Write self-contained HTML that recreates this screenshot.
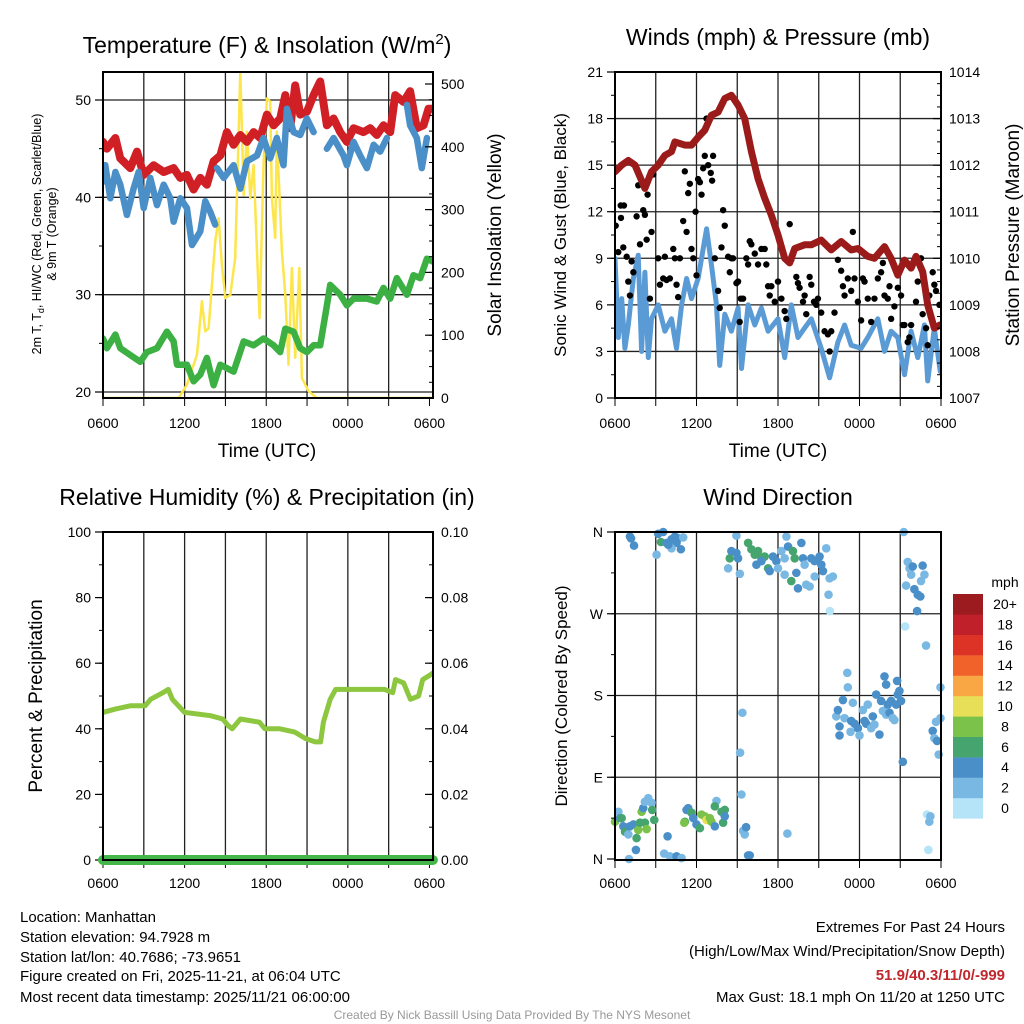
<!DOCTYPE html>
<html><head><meta charset="utf-8"><style>
html,body{margin:0;padding:0;background:#fff;}
svg{display:block;font-family:"Liberation Sans",Arial,sans-serif;}
</style></head><body>
<svg id="fig" width="1024" height="1024" viewBox="0 0 1024 1024" xmlns="http://www.w3.org/2000/svg">
<rect width="1024" height="1024" fill="#fff"/>
<text x="267" y="53" font-size="23" text-anchor="middle">Temperature (F) &amp; Insolation (W/m<tspan dy="-9" font-size="15">2</tspan><tspan dy="9">)</tspan></text>
<text x="778" y="45" font-size="23" text-anchor="middle">Winds (mph) &amp; Pressure (mb)</text>
<text x="267" y="505" font-size="23" text-anchor="middle">Relative Humidity (%) &amp; Precipitation (in)</text>
<text x="778" y="505" font-size="23" text-anchor="middle">Wind Direction</text>
<text x="267" y="457" font-size="19" text-anchor="middle">Time (UTC)</text>
<text x="778" y="457" font-size="19" text-anchor="middle">Time (UTC)</text>
<text transform="translate(41,234) rotate(-90)" font-size="12.5" text-anchor="middle">2m T, T<tspan dy="3" font-size="9">d</tspan><tspan dy="-3">, HI/WC (Red, Green, Scarlet/Blue)</tspan></text>
<text transform="translate(56,234) rotate(-90)" font-size="12.5" text-anchor="middle">&amp; 9m T (Orange)</text>
<text transform="translate(501,235) rotate(-90)" font-size="19" text-anchor="middle">Solar Insolation (Yellow)</text>
<text transform="translate(566,235) rotate(-90)" font-size="17" text-anchor="middle">Sonic Wind &amp; Gust (Blue, Black)</text>
<text transform="translate(1019,235) rotate(-90)" font-size="19" text-anchor="middle">Station Pressure (Maroon)</text>
<text transform="translate(42,696) rotate(-90)" font-size="19" text-anchor="middle">Percent &amp; Precipitation</text>
<text transform="translate(567,696) rotate(-90)" font-size="17" text-anchor="middle">Direction (Colored By Speed)</text>
<g font-size="15">
<text x="20" y="922">Location: Manhattan</text>
<text x="20" y="942">Station elevation: 94.7928 m</text>
<text x="20" y="962">Station lat/lon: 40.7686; -73.9651</text>
<text x="20" y="981">Figure created on Fri, 2025-11-21, at 06:04 UTC</text>
<text x="20" y="1002">Most recent data timestamp: 2025/11/21 06:00:00</text>
</g>
<g font-size="15" text-anchor="end">
<text x="1005" y="932">Extremes For Past 24 Hours</text>
<text x="1005" y="956">(High/Low/Max Wind/Precipitation/Snow Depth)</text>
<text x="1005" y="980" fill="#c1272d" font-weight="bold">51.9/40.3/11/0/-999</text>
<text x="1005" y="1002">Max Gust: 18.1 mph On 11/20 at 1250 UTC</text>
</g>
<text x="512" y="1019" font-size="12" fill="#999" text-anchor="middle">Created By Nick Bassill Using Data Provided By The NYS Mesonet</text>
</svg>
<script>
// ---------- DATA ----------
const tempTime=[0,0.29,0.91,1.27,2.01,2.5,2.99,3.72,4.46,5.19,5.68,6.17,6.66,7.15,7.64,8.13,8.62,9.11,9.6,10.09,10.58,11.07,11.56,12.05,12.54,13.03,13.4,13.76,14.13,14.5,14.99,15.48,15.97,16.46,16.95,17.44,17.93,18.42,19.15,19.64,20.13,20.62,21.11,21.48,22.09,22.58,23.07,23.56,23.93,24.25];
const tempVal=[45.7,45.0,46.1,44.0,43.0,44.7,42.3,43.3,42.6,43.0,42.0,42.3,40.8,42.0,41.3,43.7,44.3,46.7,45.4,46.4,45.7,46.7,46.1,48.5,47.4,48.1,50.5,47.1,51.5,48.5,48.8,50.5,51.9,47.4,48.1,46.7,45.7,47.1,46.7,47.1,46.4,47.4,46.7,50.5,49.8,50.9,47.1,47.4,49.1,49.1];
const hiwcTime=[0,0.17,0.54,0.91,1.27,1.76,2.25,2.62,2.99,3.48,3.97,4.46,4.95,5.19,5.68,6.17,6.54,7.15,7.52,7.89,8.25,8.3,8.38,8.87,9.6,10.09,10.58,11.32,11.8,12.29,12.78,13.27,13.52,14.01,14.5,14.99,15.48,16.0,16.46,16.95,17.68,17.93,18.42,18.91,19.4,19.89,20.38,20.87,21.5,22.34,22.58,23.07,23.44,23.81];
const hiwcVal=[41.6,43.3,39.9,42.6,41.3,38.2,40.9,42.6,38.9,42.0,39.2,41.3,39.9,37.5,39.9,38.9,35.1,36.5,39.6,38.5,37.2,null,43.0,42.0,43.3,40.9,43.7,44.3,46.1,44.0,46.1,43.3,49.1,46.7,46.4,48.1,46.7,null,45.0,46.1,44.3,43.3,45.7,44.3,43.0,45.4,44.7,46.1,null,49.5,47.4,46.1,43.0,46.1];
const dewTime=[0,0.29,0.91,1.27,2.01,2.74,3.23,3.97,4.7,5.19,5.44,6.17,6.66,7.15,7.64,8.13,8.62,9.6,10.34,11.07,11.8,12.54,13.03,13.4,14.01,14.5,14.99,15.48,15.97,16.46,16.7,17.44,17.93,18.42,19.4,20.13,20.62,21.11,21.6,22.34,22.83,23.32,23.81,24.25];
const dewVal=[25.5,24.5,25.9,24.5,23.8,23.1,24.1,24.5,26.2,25.2,22.8,22.8,21.1,21.8,23.5,20.7,22.8,22.1,25.2,24.8,25.5,24.8,24.1,26.5,26.2,24.5,24.1,24.8,24.8,28.9,31.0,30.0,28.9,29.6,29.6,29.3,30.7,29.6,31.7,30.0,32.0,31.7,33.7,33.4];
const solarTime=[0,5.56,6.17,6.91,7.27,7.52,7.76,8.25,8.5,8.74,8.99,9.36,9.72,10.09,10.34,10.58,10.83,11.07,11.51,11.8,12.05,12.29,12.42,12.66,12.78,13.15,13.4,13.64,13.89,14.13,14.43,14.62,15.11,15.72,24.25];
const solarVal=[0,0,21,69,154,106,111,249,286,212,159,164,223,520,323,424,318,371,127,371,477,472,318,255,424,233,164,53,207,64,207,32,11,0,0];
const tempTicks=[20,30,40,50];
const solarTicks=[0,100,200,300,400,500];
const timeTickLabels=["0600","1200","1800","0000","0600"];

const presTime=[0,0.49,0.98,1.47,2.2,2.69,3.18,3.67,4.16,4.41,5.14,5.63,6.12,6.61,7.1,7.59,8.08,8.57,9.06,9.55,10.04,10.53,11.02,11.51,12.0,12.49,12.86,13.23,13.96,14.45,15.18,15.92,16.65,17.39,17.88,18.61,19.1,19.84,20.33,20.82,21.31,21.8,22.16,22.65,23.02,23.51,23.95];
const presVal=[1011.86,1012.0,1012.1,1012.0,1011.5,1011.86,1012.0,1012.21,1012.29,1012.5,1012.43,1012.43,1012.6,1012.75,1013.07,1013.14,1013.43,1013.5,1013.29,1013.0,1012.29,1011.71,1011.29,1010.93,1010.5,1010.0,1009.9,1010.21,1010.29,1010.29,1010.39,1010.18,1010.36,1010.18,1010.21,1010.04,1010.0,1010.25,1010.0,1009.64,1009.96,1009.79,1010.04,1009.71,1009.0,1008.5,1008.57];
const sonicTime=[0,0.24,0.49,0.73,0.98,1.35,1.71,1.96,2.2,2.45,2.69,3.18,3.67,4.16,4.53,4.9,5.27,5.63,6.12,6.74,7.1,7.47,7.71,8.08,8.57,9.06,9.31,9.8,10.29,10.78,11.27,12.0,12.49,12.98,13.47,13.96,14.45,15.18,15.8,16.41,16.9,17.39,18.12,18.61,19.35,19.84,20.33,20.82,21.31,21.8,22.29,22.78,23.02,23.51,23.95];
const sonicVal=[9.0,3.9,6.4,3.2,4.7,7.7,9.2,3.0,8.1,2.6,5.1,6.0,4.3,5.1,3.2,6.0,7.7,6.4,7.7,10.9,8.6,6.0,2.1,5.4,4.3,5.8,1.9,6.0,4.7,5.8,4.3,5.1,2.6,6.0,3.9,4.5,5.1,3.2,1.3,3.6,4.7,3.4,3.2,3.9,5.1,3.0,4.3,3.9,1.5,4.3,2.6,4.7,1.1,4.5,1.7];
const gustTime=[0.05,0.24,0.42,0.66,0.44,0.61,0.86,0.98,1.1,1.22,1.35,1.59,1.71,1.84,2.08,2.2,2.33,2.4,2.57,2.69,2.82,3.18,3.31,3.55,3.67,3.8,4.04,4.29,4.41,4.53,4.65,4.78,5.02,5.14,5.27,5.39,5.51,5.63,5.76,5.93,6.0,6.12,6.25,6.37,6.49,6.61,6.74,6.86,7.05,7.15,7.22,7.35,7.59,7.71,7.84,7.96,8.08,8.33,8.45,8.57,8.69,8.94,9.06,9.18,9.26,9.43,9.67,9.8,9.92,10.04,10.29,10.53,10.78,11.02,11.14,11.27,11.39,11.51,11.76,12.0,12.25,12.49,12.61,12.86,12.98,13.35,13.47,13.59,13.84,13.96,14.08,14.33,14.45,14.65,14.82,14.94,15.18,15.43,15.67,15.8,15.92,16.16,16.41,16.65,16.78,16.9,17.14,17.39,17.51,17.63,17.88,18.12,18.25,18.37,18.61,18.86,19.1,19.35,19.59,19.72,19.84,20.08,20.21,20.33,20.57,20.82,21.06,21.18,21.31,21.55,21.67,21.8,22.16,22.29,22.53,22.65,22.9,23.02,23.14,23.39,23.51,23.63,23.88];
const gustVal=[11.1,9.4,12.4,12.4,11.6,9.7,9.1,7.5,6.6,8.8,8.1,11.7,13.7,9.9,12.1,11.8,10.2,13.1,6.4,10.7,14.4,9.0,7.3,7.7,9.1,7.6,7.7,9.6,9.0,7.3,6.5,9.0,11.4,14.6,10.7,13.2,13.8,9.6,9.0,12.0,7.9,14.1,13.9,13.1,14.8,15.6,18.0,15.0,14.5,14.0,15.6,9.0,6.9,5.8,9.7,12.1,11.1,9.1,8.1,9.0,9.0,7.4,7.5,4.9,6.4,6.4,9.0,8.6,10.1,9.9,9.3,8.6,9.6,9.6,8.6,7.2,6.6,7.2,6.2,7.5,6.4,5.6,5.1,11.2,8.9,7.8,7.4,7.1,6.2,6.6,5.4,7.8,7.3,6.2,6.0,6.4,5.5,4.3,4.1,3.0,4.3,5.5,8.9,8.2,7.2,6.6,7.7,6.9,10.7,7.7,6.2,5.0,7.7,7.5,6.4,4.9,6.4,7.7,8.1,8.7,6.6,6.4,7.2,5.1,5.9,7.1,6.6,4.7,4.7,3.6,3.9,4.7,6.2,7.5,9.0,5.4,4.5,3.4,6.6,8.1,7.3,6.9,6.0];
const windTicks=[0,3,6,9,12,15,18,21];
const presTicks=[1007,1008,1009,1010,1011,1012,1013,1014];

const rhTime=[0,0.9,2,3.1,3.5,4.4,4.8,5.1,6,7.9,8.8,9.2,9.5,10.1,11.5,11.9,13,14.1,14.9,15.6,16,16.2,16.7,17.1,17.8,18.9,20.2,20.7,21.3,21.5,22.1,22.6,23.2,23.5,23.9,24.25];
const rhVal=[45,46,47,47,49,51,52,49,45,44,43,41,40,43,42,40,40,39,37,36,36,42,49,52,52,52,52,52,51,55,54,49,50,55,56,57];
const precipTime=[0,24.25];
const precipVal=[0,0];
const rhTicks=[0,20,40,60,80,100];
const precipTicks=["0.00","0.02","0.04","0.06","0.08","0.10"];

const dirTime=[1.1,1.18,1.4,3.06,3.18,3.55,3.38,3.8,4.16,4.41,4.65,4.53,5.02,4.85,4.16,3.92,8.33,8.45,8.57,8.94,9.06,9.19,8.94,9.8,10.04,10.29,10.53,10.78,11.02,10.41,10.78,11.27,11.39,11.63,11.88,12.0,12.25,12.49,12.49,12.62,12.74,12.98,13.1,13.23,13.35,13.47,13.72,13.84,13.96,14.08,14.33,14.45,14.7,14.7,15.06,15.19,15.31,15.55,15.8,16.04,15.72,15.82,21.26,21.43,21.55,21.68,21.8,21.92,22.04,22.29,22.48,22.65,22.78,22.53,22.24,21.36,22.9,17.1,17.14,16.78,16.29,16.41,16.53,16.53,16.9,17.39,17.51,17.34,17.63,17.88,18.0,18.25,18.37,18.49,18.61,18.86,18.98,19.1,19.23,19.47,19.59,19.72,19.84,19.96,19.96,20.08,20.21,20.33,20.45,20.57,20.7,20.82,20.77,20.94,21.06,21.19,23.96,23.63,23.96,23.39,23.51,23.71,23.83,22.97,23.22,23.14,23.07,9.38,9.21,9.31,9.43,9.55,9.65,9.8,9.92,12.69,0,0.25,0.37,0.49,0.61,0.74,0.98,1.1,1.35,1.59,1.71,1.84,1.96,2.08,2.2,2.33,2.45,2.69,2.74,2.89,2.2,1.54,1.03,3.87,3.62,4.04,4.53,4.9,5.14,5.27,5.39,5.63,5.76,6.0,6.25,6.37,6.61,6.74,6.98,7.1,7.35,7.47,7.35,7.84,7.96,8.08,8.08,5.1];
const dirVal=[355,353,345,335,358,360,349,348,352,355,353,348,354,341,342,346,320,331,339,337,331,314,356,348,341,335,339,331,333,324,328,320,317,333,328,320,339,331,313,355,344,306,339,331,315,298,348,331,324,302,300,331,328,311,333,324,317,342,309,311,291,273,360,301,327,320,313,322,297,291,289,323,313,306,273,256,235,205,189,175,157,164,146,136,155,152,172,140,149,144,136,164,152,149,170,144,157,148,181,137,174,163,201,192,159,170,161,174,155,153,170,181,196,185,174,107,189,151,155,141,133,130,115,49,47,41,10,161,117,71,31,27,35,4,4,28,41,52,45,45,36,30,27,36,38,23,32,40,52,56,40,33,67,62,54,43,63,10,0,25,6,3,3,1,41,54,56,51,45,38,34,49,47,43,45,41,36,64,58,52,40,54,47,40];
const dirSpeed=[4,4,4,2,4,4,6,4,4,4,4,4,2,4,2,4,2,6,4,4,4,2,2,6,6,6,6,6,6,4,4,6,4,4,4,2,2,2,2,2,4,6,6,6,4,4,4,4,2,2,2,4,4,2,4,4,4,2,2,2,2,0,2,2,2,2,2,4,4,4,4,4,2,2,4,0,2,2,2,4,2,4,4,4,2,4,2,2,4,4,2,2,4,4,2,2,4,2,4,4,4,2,4,4,2,4,4,4,2,2,4,4,4,4,4,4,2,2,2,4,2,4,2,0,2,2,0,2,2,2,2,2,4,4,4,2,8,2,4,6,4,6,2,4,4,6,8,6,8,4,6,8,2,2,6,6,2,4,2,4,2,2,4,2,6,4,4,6,4,4,6,8,8,10,8,8,4,2,6,6,6,6,4,8];
const dirTickLabels=["N","E","S","W","N"];
const speedBins=["0","2","4","6","8","10","12","14","16","18","20+"];
const speedColors=["#b5e3f8","#7ab8e4","#4a8fc8","#46a56f","#7bc24b","#e7df57","#f9a745","#f0622a","#dd3327","#c0202a","#9b1b1e"];

// ---------- DRAW ----------
const NS="http://www.w3.org/2000/svg";
const svg=document.getElementById('fig');
function mk(tag,attrs,parent){const e=document.createElementNS(NS,tag);for(const k in attrs)e.setAttribute(k,attrs[k]);(parent||svg).appendChild(e);return e;}
function lin(d0,d1,r0,r1){return v=>r0+(v-d0)*(r1-r0)/(d1-d0);}
function pathOf(ts,vs,xs,ys){let d="",pen=false;for(let i=0;i<ts.length;i++){if(vs[i]===null||vs[i]===undefined){pen=false;continue;}d+=(pen?"L":"M")+xs(ts[i]).toFixed(1)+","+ys(vs[i]).toFixed(1);pen=true;}return d;}

function panel(name,L,R,T,B,tEnd,lblOff){
  const g=mk('g',{});
  
  
  const clipId=name+'-clip';
  const cp=mk('clipPath',{id:clipId},g);
  mk('rect',{x:L,y:T,width:R-L,height:B-T},cp);
  const x=lin(0,24,L,L+(R-L)*24/tEnd);
  return {g,x,L,R,T,B,lblOff,clip:'url(#'+clipId+')'};
}
function vgrid(p){
  for(let h=3;h<24;h+=3){
    const l=mk('line',{x1:p.x(h),x2:p.x(h),y1:p.T,y2:p.B,stroke:'#222','stroke-width':1.3},p.g);
    
    
  }
  for(let h=0;h<=24;h+=3){
    const l=mk('line',{x1:p.x(h),x2:p.x(h),y1:p.B,y2:p.B+8,stroke:'#000','stroke-width':1},p.g);
    
    
  }
  timeTickLabels.forEach((s,i)=>{
    const t=mk('text',{x:p.x(i*6),y:p.B+p.lblOff,'font-size':14,'text-anchor':'middle'},p.g);t.textContent=s;
    
    
  });
}
function hgrid(p,vals,y,color){
  vals.forEach(v=>{const l=mk('line',{x1:p.L,x2:p.R,y1:y(v),y2:y(v),stroke:color||'#222','stroke-width':1.3},p.g);
    
    });
}
function leftAxis(p,vals,labels,y,minorStep,lo,hi){
  if(minorStep){for(let v=lo;v<=hi+1e-9;v+=minorStep){const l=mk('line',{x1:p.L-4,x2:p.L,y1:y(v),y2:y(v),stroke:'#000'},p.g);
    
    }}
  vals.forEach((v,i)=>{const l=mk('line',{x1:p.L-8,x2:p.L,y1:y(v),y2:y(v),stroke:'#000','stroke-width':1.2},p.g);
    
    
    const t=mk('text',{x:p.L-12,y:y(v)+5,'font-size':14,'text-anchor':'end'},p.g);t.textContent=labels[i];
    
    });
}
function rightAxis(p,vals,labels,y,minorStep,lo,hi){
  if(minorStep){for(let v=lo;v<=hi+1e-9;v+=minorStep){const l=mk('line',{x1:p.R-4,x2:p.R,y1:y(v),y2:y(v),stroke:'#000'},p.g);
    
    }}
  vals.forEach((v,i)=>{const l=mk('line',{x1:p.R-8,x2:p.R,y1:y(v),y2:y(v),stroke:'#000','stroke-width':1.2},p.g);
    
    
    const t=mk('text',{x:p.R+8,y:y(v)+5,'font-size':14,'text-anchor':'start'},p.g);t.textContent=labels[i];
    
    });
}
function frame(p){const r=mk('rect',{x:p.L,y:p.T,width:p.R-p.L,height:p.B-p.T,fill:'none',stroke:'#000','stroke-width':2},p.g);
  
  }
function line(p,ts,vs,y,color,w,name,noclip){const a={d:pathOf(ts,vs,p.x,y),fill:'none',stroke:color,'stroke-width':w,'stroke-linejoin':'round','stroke-linecap':'round'};if(!noclip)a['clip-path']=p.clip;const e=mk('path',a,p.g);
  
  }

// Panel 1
const p1=panel('temperature-panel',103,433,72,398,24.26,30);
const yT=lin(20,50,392,100), yS=lin(0,500,398,84);
vgrid(p1); hgrid(p1,tempTicks,yT);
line(p1,solarTime,solarVal,yS,'#fde64b',2.5,'solar-insolation-line');
line(p1,dewTime,dewVal,yT,'#3cb043',6.5,'dewpoint-line');
line(p1,tempTime,tempVal,yT,'#d11f26',8,'temperature-line');
line(p1,hiwcTime,hiwcVal,yT,'#4a8fc8',6.5,'heat-index-wind-chill-line');
leftAxis(p1,tempTicks,tempTicks.map(String),yT,5,20,50);
rightAxis(p1,solarTicks,solarTicks.map(String),yS,25,0,500);
frame(p1);

// Panel 2
const p2=panel('wind-pressure-panel',615,941,72,398,24,30);
const yW=lin(0,21,398,72), yP=lin(1007,1014,398,72);
vgrid(p2); hgrid(p2,windTicks,yW);
line(p2,sonicTime,sonicVal,yW,'#5b9bd5',5,'sonic-wind-line');
gustTime.forEach((t,i)=>{const c=mk('circle',{cx:p2.x(t),cy:yW(gustVal[i]),r:3.2,fill:'#000','clip-path':p2.clip},p2.g);
  
  });
line(p2,presTime,presVal,yP,'#9b1b1b',7,'pressure-line');
leftAxis(p2,windTicks,windTicks.map(String),yW,1.5,0,21);
rightAxis(p2,presTicks,presTicks.map(String),yP,0.25,1007,1014);
frame(p2);

// Panel 3
const p3=panel('humidity-precip-panel',103,433,532,860,24.26,28);
const yRH=lin(0,100,860,532), yPr=lin(0,0.1,860,532);
vgrid(p3);
line(p3,rhTime,rhVal,yRH,'#8dc63f',5,'relative-humidity-line');
leftAxis(p3,rhTicks,rhTicks.map(String),yRH,10,0,100);
rightAxis(p3,rhTicks.map(v=>v/1000),precipTicks,yPr,0.01,0,0.1);
line(p3,precipTime,precipVal,yPr,'#45b649',10,'precipitation-line',true);
frame(p3);

// Panel 4
const p4=panel('wind-direction-panel',615,941,532,860,24,28);
const yD=lin(0,360,859,532);
vgrid(p4); hgrid(p4,[90,180,270],yD);
dirTime.forEach((t,i)=>{const c=mk('circle',{cx:p4.x(t),cy:yD(dirVal[i]),r:4.3,fill:speedColors[Math.min(10,Math.round(dirSpeed[i]/2))]},p4.g);
  
  });
leftAxis(p4,[0,90,180,270,360],dirTickLabels,yD,45,0,360);
frame(p4);

// Colorbar
const cb=mk('g',{});


const cbt=mk('text',{x:1005,y:587,'font-size':14,'text-anchor':'middle'},cb);cbt.textContent='mph';


speedBins.forEach((s,i)=>{const k=speedBins.length-1-i;const yy=594+k*20.4;
  const r=mk('rect',{x:953,y:yy,width:30,height:20.6,fill:speedColors[i]},cb);
  
  
  const t=mk('text',{x:1005,y:yy+15,'font-size':14,'text-anchor':'middle'},cb);t.textContent=s;
  
  });
</script>
</body></html>
